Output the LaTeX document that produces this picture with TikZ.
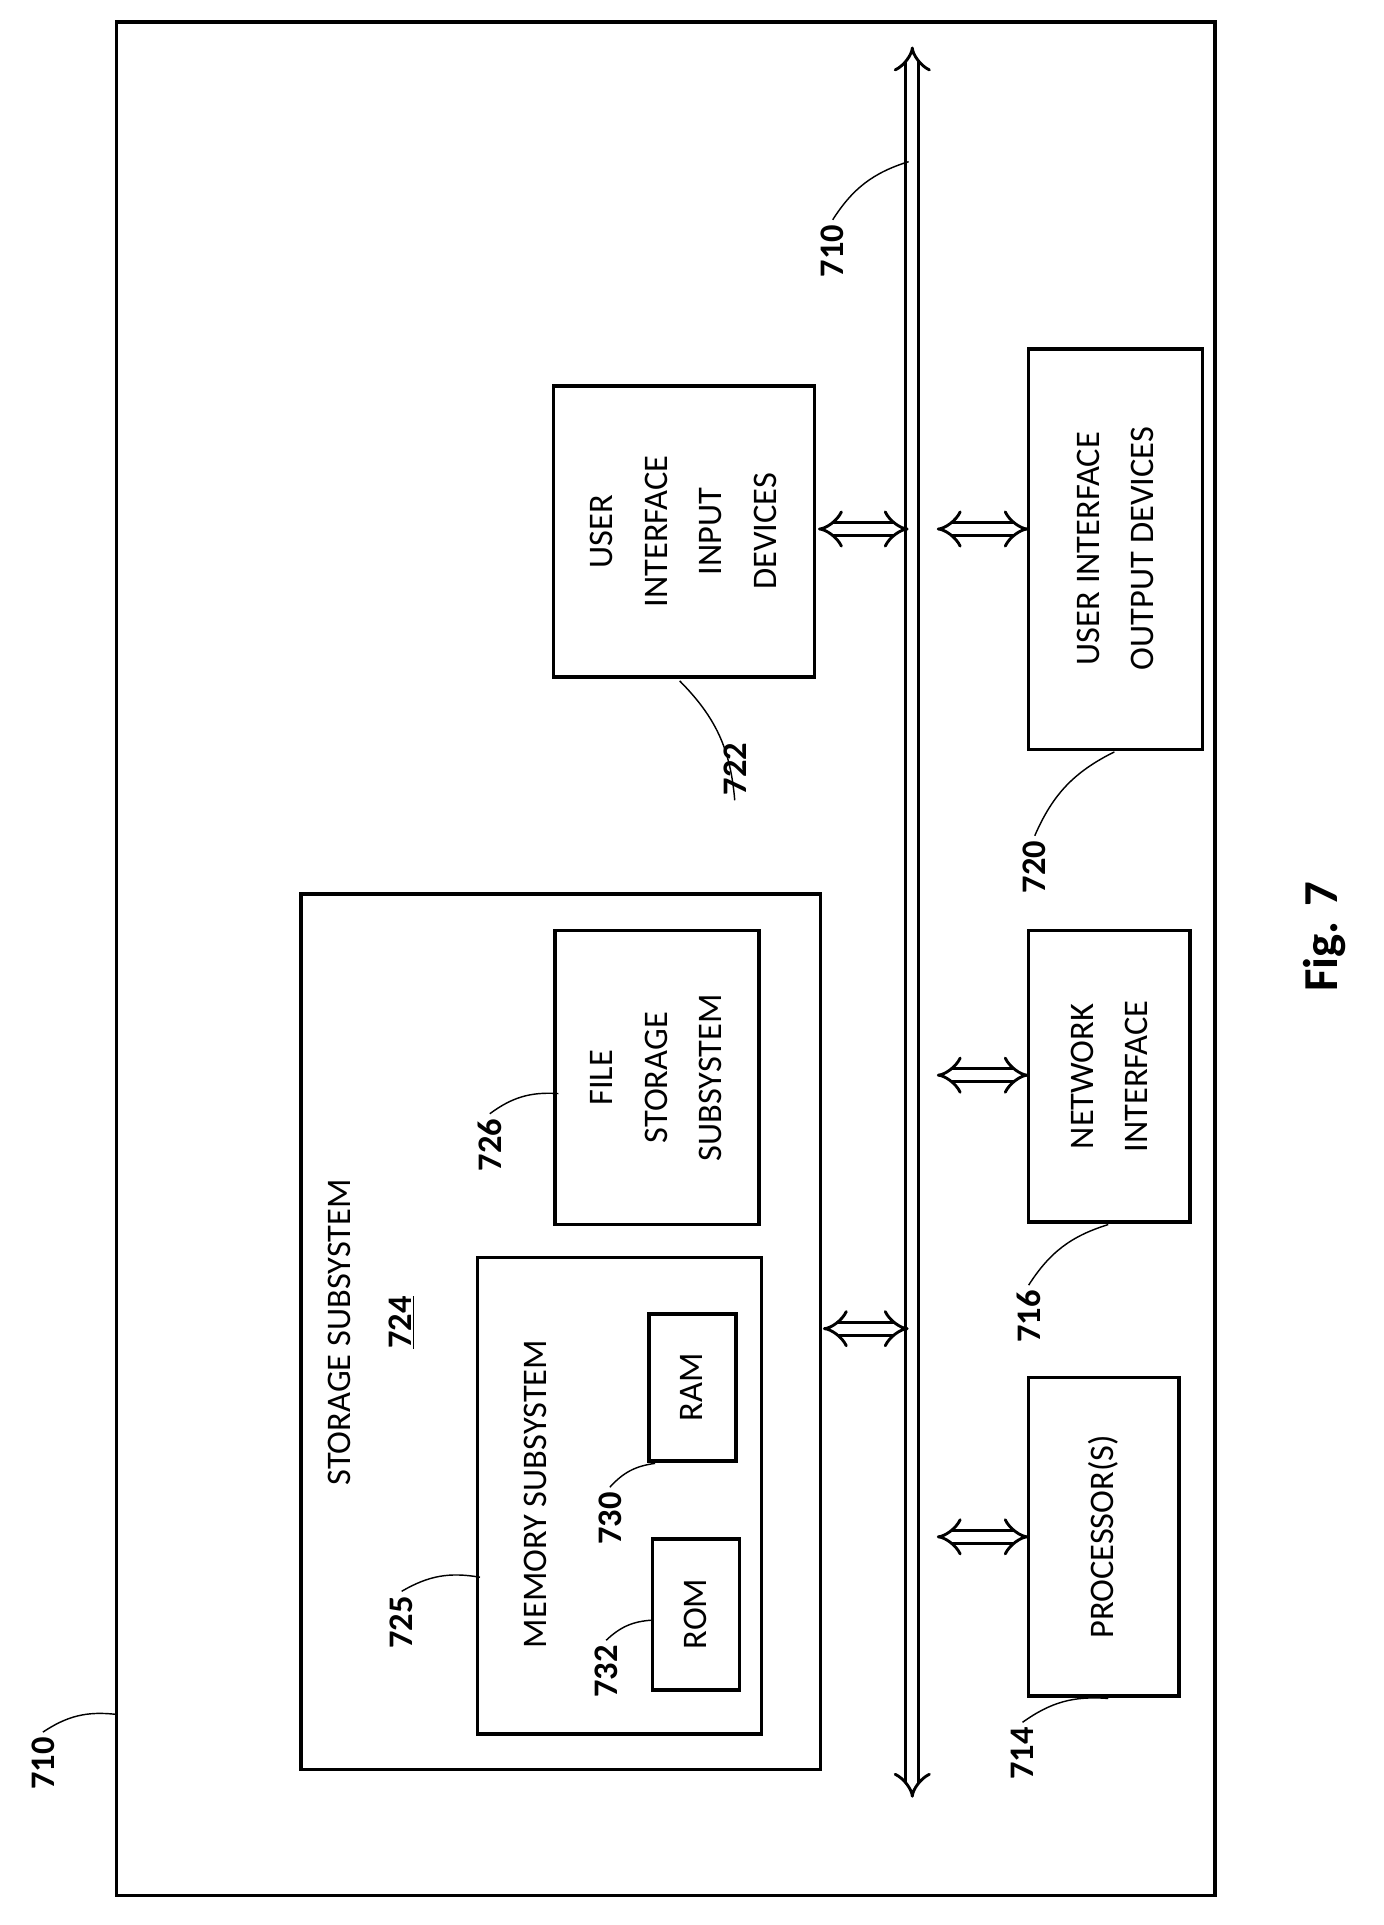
\documentclass[tikz,border=0pt]{standalone}
\usepackage{fontspec}
\setmainfont{Carlito}
\usetikzlibrary{arrows.meta}
\tikzset{
  blk/.style={draw, line width=2.5pt},
  txt/.style={rotate=90, align=center, font=\fontsize{24}{38}\selectfont},
  num/.style={rotate=90, font=\bfseries\fontsize{24}{28}\selectfont},
  lead/.style={line width=1pt},
  busarrow/.style={double, line width=2pt, double distance=7pt, {Implies[]}-{Implies[]}}
}
\begin{document}
\begin{tikzpicture}[x=0.3mm, y=-0.3mm]
\useasboundingbox (0,0) rectangle (1130,1572);
% outer frame
\draw[blk] (95,18) rectangle (992,1548);
% bus
\coordinate (bustop) at (745,38);
\coordinate (busbot) at (745,1468);
\draw[busarrow] (bustop) -- (busbot);
% blocks
\draw[blk] (452,315) rectangle (665,553);
\node[txt] (uiin) at (558,434) {USER\\INTERFACE\\INPUT\\DEVICES};
\draw[blk] (840,285) rectangle (982,612);
\node[txt] (uiout) at (911,448) {USER INTERFACE\\OUTPUT DEVICES};
\draw[blk] (246,730) rectangle (670,1445);
\node[txt] (stor) at (277,1088) {STORAGE SUBSYSTEM};
\node[num, font=\fontsize{24}{28}\selectfont\bfseries] (n724) at (328,1080) {\underline{724}};
\draw[blk] (453,760) rectangle (620,1000);
\node[txt] (file) at (536,880) {FILE\\STORAGE\\SUBSYSTEM};
\draw[blk] (840,760) rectangle (972,998);
\node[txt] (net) at (906,879) {NETWORK\\INTERFACE};
\draw[blk] (390,1027) rectangle (622,1416);
\node[txt] (mem) at (437,1220) {MEMORY SUBSYSTEM};
\draw[blk] (530,1073) rectangle (601,1193);
\node[txt] (ram) at (565,1133) {RAM};
\draw[blk] (533,1257) rectangle (604,1380);
\node[txt] (rom) at (568,1318) {ROM};
\draw[blk] (840,1125) rectangle (963,1385);
\node[txt] (proc) at (901,1255) {PROCESSOR(S)};
% bus links
\foreach \y/\a/\b in {432/668/742, 432/765/840, 1085/672/742, 878/765/840, 1255/765/840}
  \draw[busarrow] (\a,\y) -- (\b,\y);
% reference numerals
\node[num] (l710a) at (35,1440) {710};
\node[num] (l710b) at (680,205) {710};
\node[num] (l722) at (600,628) {722};
\node[num] (l720) at (845,708) {720};
\node[num] (l716) at (840,1075) {716};
\node[num] (l714) at (835,1432) {714};
\node[num] (l726) at (400,935) {726};
\node[num] (l725) at (328,1325) {725};
\node[num] (l730) at (498,1240) {730};
\node[num] (l732) at (495,1365) {732};
\coordinate (c710a) at (95,1400);
\coordinate (c710b) at (742,132);
\coordinate (c722) at (555,556);
\coordinate (c720) at (910,614);
\coordinate (c716) at (905,1000);
\coordinate (c714) at (905,1387);
\coordinate (c726) at (456,893);
\coordinate (c725) at (392,1288);
\coordinate (c730) at (535,1195);
\coordinate (c732) at (533,1323);
\draw[lead] (l710a.east) to[bend left=20] (c710a);
\draw[lead] (l710b.east) to[bend left=20] (c710b);
\draw[lead] (l722.west) to[bend right=20] (c722);
\draw[lead] (l720.east) to[bend left=20] (c720);
\draw[lead] (l716.east) to[bend left=20] (c716);
\draw[lead] (l714.east) to[bend left=20] (c714);
\draw[lead] (l726.east) to[bend left=20] (c726);
\draw[lead] (l725.east) to[bend left=20] (c725);
\draw[lead] (l730.east) to[bend left=20] (c730);
\draw[lead] (l732.east) to[bend left=20] (c732);
\node[rotate=90, font=\bfseries\fontsize{34}{40}\selectfont] (fig) at (1082,765) {Fig. 7};
\end{tikzpicture}
\end{document}
